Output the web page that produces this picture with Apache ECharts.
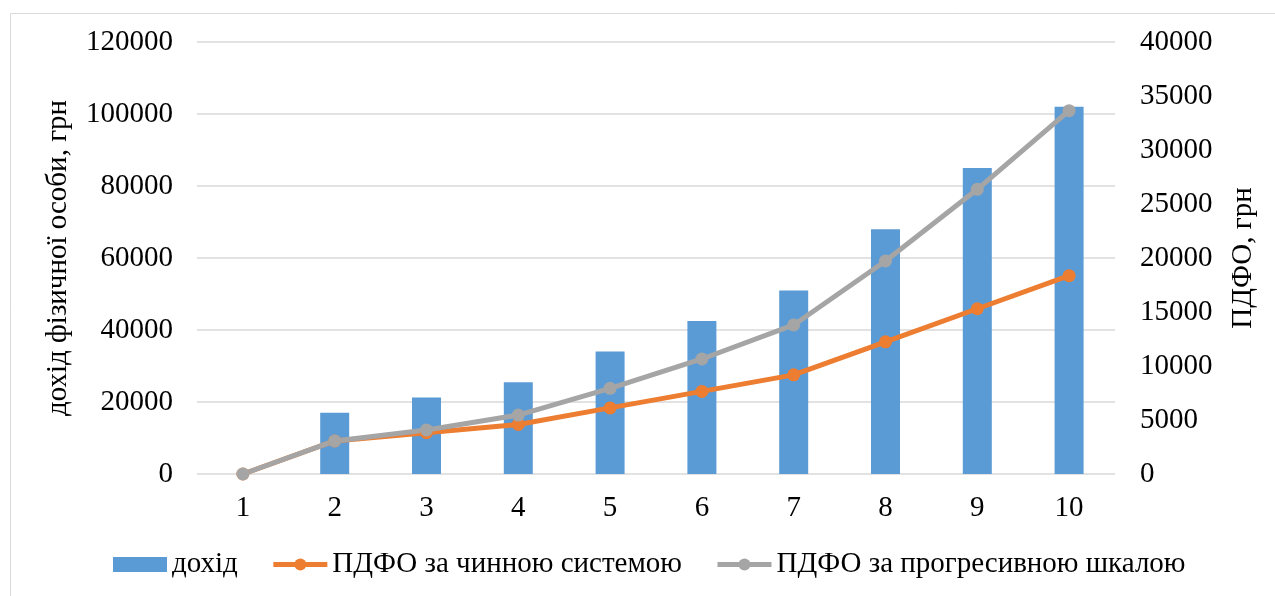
<!DOCTYPE html>
<html>
<head>
<meta charset="utf-8">
<script src="https://cdn.jsdelivr.net/npm/echarts@6/dist/echarts.min.js"></script>
<style>
  html, body { margin: 0; padding: 0; background: #ffffff; }
  #chart { width: 1275px; height: 596px; }
</style>
</head>
<body>
<div id="chart"></div>
<script>
// Income groups 1..10
const categories = ['1', '2', '3', '4', '5', '6', '7', '8', '9', '10'];
// Monthly income of an individual, UAH
const income = [0, 17000, 21250, 25500, 34000, 42500, 51000, 68000, 85000, 102000];
// Personal income tax under the current flat system, UAH
const taxCurrent = [0, 3060, 3825, 4590, 6120, 7650, 9180, 12240, 15300, 18360];
// Personal income tax under a progressive scale, UAH
const taxProgressive = [0, 3060, 4080, 5460, 7930, 10650, 13800, 19720, 26360, 33640];

const FONT = '"Liberation Serif", "DejaVu Serif", serif';
const TXT = '#000000';
const FS = 29;
const plain = v => String(v);

const chart = echarts.init(document.getElementById('chart'));
chart.setOption({
  backgroundColor: '#ffffff',
  animation: false,
  textStyle: { fontFamily: FONT, color: TXT },
  graphic: [{
    type: 'rect',
    shape: { x: 10.5, y: 13.5, width: 1300, height: 620 },
    style: { fill: 'none', stroke: '#d9d9d9', lineWidth: 1 },
    silent: true
  }],
  grid: { left: 197, right: 160, top: 42, bottom: 122, containLabel: false },
  legend: {
    left: 108,
    top: 545,
    itemWidth: 54,
    itemHeight: 15,
    itemGap: 33,
    textStyle: { fontFamily: FONT, fontSize: FS, color: TXT },
    data: [
      { name: 'дохід', icon: 'rect' },
      { name: 'ПДФО за чинною системою', lineStyle: { width: 5 } },
      { name: 'ПДФО за прогресивною шкалою', lineStyle: { width: 5 } }
    ]
  },
  xAxis: {
    type: 'category',
    data: categories,
    axisLine: { show: false },
    axisTick: { show: false },
    axisLabel: { fontFamily: FONT, fontSize: FS, color: TXT, margin: 20 }
  },
  yAxis: [{
    type: 'value',
    min: 0, max: 120000, interval: 20000,
    name: 'дохід фізичної особи, грн',
    nameLocation: 'middle',
    nameGap: 124,
    nameTextStyle: { fontFamily: FONT, fontSize: FS, color: TXT },
    axisLine: { show: false },
    axisTick: { show: false },
    axisLabel: { fontFamily: FONT, fontSize: FS, color: TXT, margin: 24, formatter: plain },
    splitLine: { lineStyle: { color: '#d9d9d9', width: 1.5 } }
  }, {
    type: 'value',
    min: 0, max: 40000, interval: 5000,
    name: 'ПДФО, грн',
    nameLocation: 'middle',
    nameGap: 114,
    nameTextStyle: { fontFamily: FONT, fontSize: FS, color: TXT },
    axisLine: { show: false },
    axisTick: { show: false },
    axisLabel: { fontFamily: FONT, fontSize: FS, color: TXT, margin: 25, formatter: plain },
    splitLine: { show: false }
  }],
  series: [{
    name: 'дохід',
    type: 'bar',
    yAxisIndex: 0,
    data: income,
    barWidth: 29,
    itemStyle: { color: '#5b9bd5' }
  }, {
    name: 'ПДФО за чинною системою',
    type: 'line',
    yAxisIndex: 1,
    data: taxCurrent,
    symbol: 'circle',
    symbolSize: 13,
    lineStyle: { color: '#ed7d31', width: 5 },
    itemStyle: { color: '#ed7d31' }
  }, {
    name: 'ПДФО за прогресивною шкалою',
    type: 'line',
    yAxisIndex: 1,
    data: taxProgressive,
    symbol: 'circle',
    symbolSize: 13,
    lineStyle: { color: '#a5a5a5', width: 5 },
    itemStyle: { color: '#a5a5a5' }
  }]
});
</script>
</body>
</html>
